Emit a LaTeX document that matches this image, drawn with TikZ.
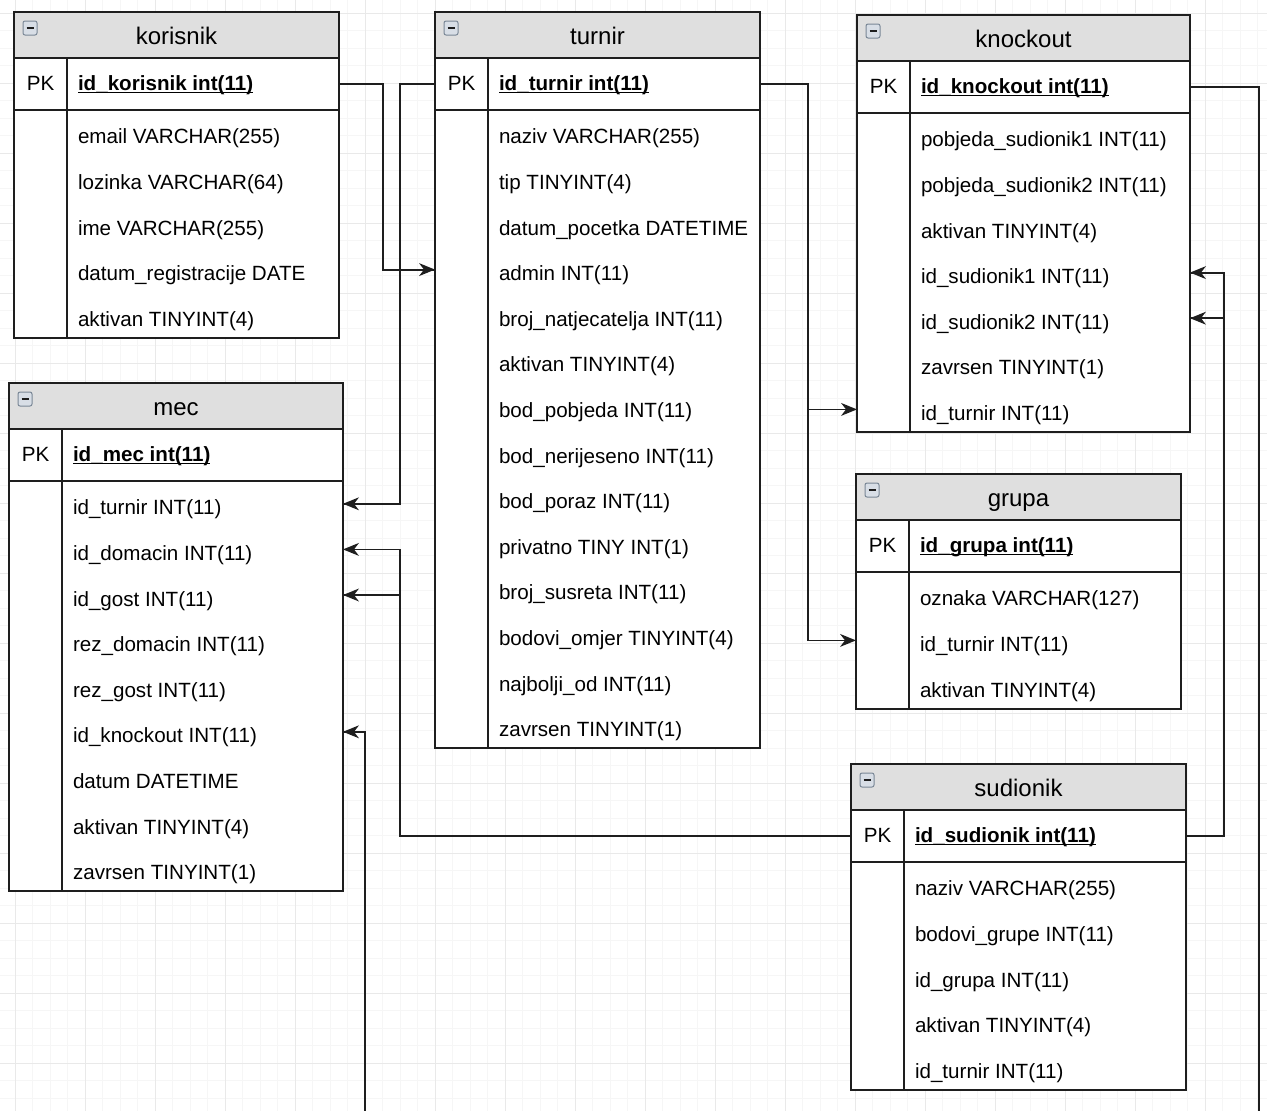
\documentclass[tikz,border=0pt]{standalone}
\usepackage{fontspec}
\setmainfont{Liberation Sans}
\usetikzlibrary{decorations.markings}
\definecolor{hdrgray}{HTML}{DFDFDF}
\definecolor{gridmin}{HTML}{F6F6F6}
\definecolor{gridmaj}{HTML}{E9E9E9}
\definecolor{lncol}{HTML}{1E1E1E}
\definecolor{iconfill}{HTML}{D8DEE6}
\definecolor{icondraw}{HTML}{7A8796}

\tikzset{
 tline/.style={draw=lncol, line width=1.9pt},
 tframe/.style={fill=white, draw=none, inner sep=0pt, outer sep=0pt},
 ttl/.style={font=\fontsize{24}{28}\selectfont, inner sep=0pt, text height=19pt, text depth=0pt},
 keyt/.style={font=\fontsize{20.6}{25}\selectfont, inner sep=0pt, text height=12.6pt, text depth=0pt},
 rowt/.style={font=\fontsize{20.6}{25}\selectfont, inner xsep=11pt, inner ysep=0pt, outer sep=0pt, anchor=west, minimum height=45.6pt, text height=22pt, text depth=0pt},
 pkrow/.style={rowt, minimum height=52pt, text height=12.6pt, text depth=0pt},
 fkline/.style={draw=lncol, line width=1.8pt},
 fk/.style={fkline, postaction={decorate, decoration={markings,
   mark=at position 1 with {\fill[lncol] (0pt,0pt) -- (-16pt,6.5pt) -- (-11pt,0pt) -- (-16pt,-6.5pt) -- cycle;}}}},
}

\newcommand\ulpk[1]{\setbox0\hbox{#1}\rlap{\rule[-2.6pt]{\wd0}{1.2pt}}\box0}

\newcommand\ertable[8]{%
  \pgfmathsetmacro\tH{98+#7*45.6}%
  \pgfmathsetmacro\tW{#4-53-22}%
  \node[tframe, minimum width=#4pt, minimum height=\tH pt, anchor=north west] (#1) at (#2,#3) {};
  \fill[hdrgray] (#2,#3) rectangle ++(#4,46);
  \draw[rounded corners=2pt, fill=iconfill, draw=icondraw, line width=1pt] (#2+9,#3+9) rectangle ++(14,14);
  \draw[line width=1.6pt, lncol] (#2+12.5,#3+16) -- ++(7,0);
  \node[ttl] (#1-h) at (#2+#4/2,#3+23) {#5};
  \draw[tline] (#2,#3+46) -- ++(#4,0);
  \draw[tline] (#2,#3+98) -- ++(#4,0);
  \draw[tline] (#2+53,#3+46) -- (#2+53,#3+\tH);
  \node[keyt] (#1-k) at (#2+26.5,#3+72) {PK};
  \node[pkrow] (#1-pk) at (#2+53,#3+72) {\makebox[\tW pt][l]{\ulpk{\textbf{#6}}}};
  \foreach \f [count=\i] in {#8} {
    \node[rowt] (#1-f\i) at (#2+53,#3+75.2+\i*45.6) {\makebox[\tW pt][l]{\f}};
  }
  \draw[tline] (#1.north west) rectangle (#1.south east);
}

\begin{document}
\begin{tikzpicture}[x=1pt,y=-1pt]
\useasboundingbox (0,0) rectangle (1267,1111);
\fill[white] (0,0) rectangle (1267,1111);
\begin{scope}
\clip (0,0) rectangle (1267,1111);
\draw[gridmin, line width=0.9pt, shift={(15,13)}, step=17.5pt] (-15,-13) grid (1252,1098);
\draw[gridmaj, line width=0.9pt, shift={(15,13)}, step=70pt] (-15,-13) grid (1252,1098);
\end{scope}

\ertable{kor}{14}{12}{325}{korisnik}{id\_korisnik int(11)}{5}{email VARCHAR(255), lozinka VARCHAR(64), ime VARCHAR(255), datum\_registracije DATE, aktivan TINYINT(4)}

\ertable{tur}{435}{12}{325}{turnir}{id\_turnir int(11)}{14}{naziv VARCHAR(255), tip TINYINT(4), datum\_pocetka DATETIME, admin INT(11), broj\_natjecatelja INT(11), aktivan TINYINT(4), bod\_pobjeda INT(11), bod\_nerijeseno INT(11), bod\_poraz INT(11), privatno TINY INT(1), broj\_susreta INT(11), bodovi\_omjer TINYINT(4), najbolji\_od INT(11), zavrsen TINYINT(1)}

\ertable{kno}{857}{15}{333}{knockout}{id\_knockout int(11)}{7}{pobjeda\_sudionik1 INT(11), pobjeda\_sudionik2 INT(11), aktivan TINYINT(4), id\_sudionik1 INT(11), id\_sudionik2 INT(11), zavrsen TINYINT(1), id\_turnir INT(11)}

\ertable{mec}{9}{383}{334}{mec}{id\_mec int(11)}{9}{id\_turnir INT(11), id\_domacin INT(11), id\_gost INT(11), rez\_domacin INT(11), rez\_gost INT(11), id\_knockout INT(11), datum DATETIME, aktivan TINYINT(4), zavrsen TINYINT(1)}

\ertable{gru}{856}{474}{325}{grupa}{id\_grupa int(11)}{3}{oznaka VARCHAR(127), id\_turnir INT(11), aktivan TINYINT(4)}

\ertable{sud}{851}{764}{335}{sudionik}{id\_sudionik int(11)}{5}{naziv VARCHAR(255), bodovi\_grupe INT(11), id\_grupa INT(11), aktivan TINYINT(4), id\_turnir INT(11)}

% connectors
\draw[fk] (kor-pk.east) -- ++(44,0) |- (tur-f4 -| tur.west);
\draw[fk] (tur-pk -| tur.west) -- ++(-35,0) |- (mec-f1 -| mec.east);
\draw[fk] (tur-pk.east) -- ++(48,0) |- (kno-f7 -| kno.west);
\draw[fk] (tur-pk.east) -- ++(48,0) |- (gru-f2 -| gru.west);
\coordinate (kend) at (1259,1112);
\coordinate (mend) at (365,1112);
\draw[fkline] (kno-pk.east) -| (kend);
\draw[fk] (mend) |- (mec-f6 -| mec.east);
\draw[fk] (sud-pk -| sud.west) -- ++(-451,0) |- (mec-f2 -| mec.east);
\draw[fk] (sud-pk -| sud.west) -- ++(-451,0) |- (mec-f3 -| mec.east);
\draw[fk] (sud-pk.east) -- ++(38,0) |- (kno-f4.east);
\draw[fk] (sud-pk.east) -- ++(38,0) |- (kno-f5.east);
\end{tikzpicture}
\end{document}
